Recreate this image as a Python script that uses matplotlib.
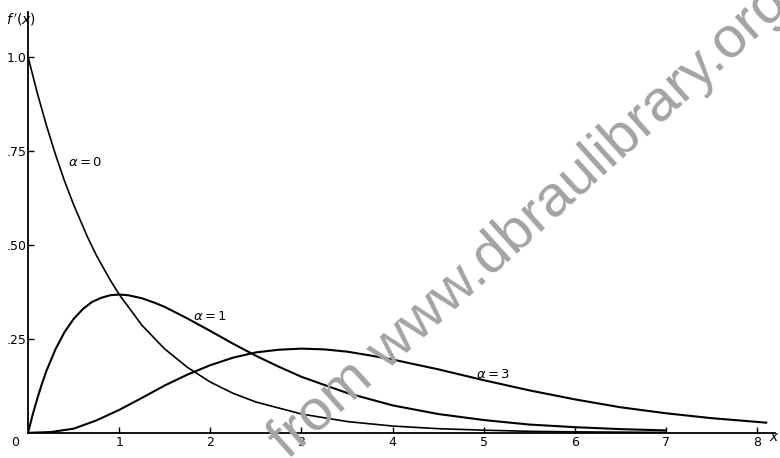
import numpy as np
import matplotlib.pyplot as plt

x_a0 = [0, 0.1, 0.2, 0.3, 0.4, 0.5, 0.65, 0.75, 0.9, 1.0, 1.25, 1.5, 1.75, 2.0, 2.25, 2.5, 3.0, 3.5, 4.0, 4.5, 5.0, 5.5, 6.0, 7.0]
f_a0 = [1.0, 0.905, 0.819, 0.741, 0.67, 0.607, 0.522, 0.472, 0.407, 0.368, 0.286, 0.223, 0.174, 0.135, 0.105, 0.082, 0.05, 0.03, 0.018, 0.011, 0.007, 0.004, 0.0025, 0.001]

x_a1 = [0, 0.05, 0.1, 0.15, 0.2, 0.3, 0.4, 0.5, 0.6, 0.7, 0.8, 0.9, 1.0, 1.1, 1.25, 1.4, 1.5, 1.75, 2.0, 2.25, 2.5, 2.75, 3.0, 3.5, 4.0, 4.5, 5.0, 5.5, 6.0, 6.5, 7.0]
f_a1 = [0, 0.048, 0.09, 0.129, 0.164, 0.222, 0.268, 0.303, 0.329, 0.348, 0.359, 0.366, 0.368, 0.366, 0.358, 0.345, 0.335, 0.304, 0.271, 0.237, 0.205, 0.176, 0.149, 0.106, 0.073, 0.05, 0.034, 0.022, 0.015, 0.0098, 0.0064]

x_a3 = [0, 0.25, 0.5, 0.75, 1.0, 1.25, 1.5, 1.75, 2.0, 2.25, 2.5, 2.75, 3.0, 3.25, 3.5, 3.75, 4.0, 4.5, 5.0, 5.5, 6.0, 6.5, 7.0, 7.5, 8.1]
f_a3 = [0, 0.002, 0.011, 0.033, 0.061, 0.093, 0.126, 0.155, 0.18, 0.2, 0.214, 0.221, 0.224, 0.222, 0.216, 0.206, 0.195, 0.169, 0.14, 0.113, 0.089, 0.068, 0.052, 0.039, 0.027]

xticks = [1, 2, 3, 4, 5, 6, 7, 8]
yticks = [0.25, 0.50, 0.75, 1.0]
ytick_labels = ['.25', '.50', '.75', '1.0']

fig = plt.figure(figsize=(7.8, 4.58), dpi=100)
ax = fig.add_axes([0.036, 0.055, 0.958, 0.919])

ax.plot(x_a0, f_a0, color='black', lw=1.2)
ax.plot(x_a1, f_a1, color='black', lw=1.5)
ax.plot(x_a3, f_a3, color='black', lw=1.5)

ax.set_xlim(0, 8.2)
ax.set_ylim(0, 1.12)
for s in ['top', 'right']:
    ax.spines[s].set_visible(False)
for s in ['left', 'bottom']:
    ax.spines[s].set_linewidth(1.3)

ax.set_xticks(xticks)
ax.set_xticklabels([str(t) for t in xticks])
ax.set_yticks(yticks)
ax.set_yticklabels(ytick_labels)
ax.tick_params(axis='both', direction='in', length=4, width=1, labelsize=9, pad=2)
ax.tick_params(axis='y', pad=1)

ax.text(-0.1, -0.008, '0', fontsize=9, ha='right', va='top')
fig.text(769 / 780, 1 - 437 / 458, '$x$', fontsize=10, ha='left', va='center')
fig.text(6 / 780, 1 - 20 / 458, "$f\\,'(x)$", fontsize=10, ha='left', va='center')

ax.text(0.63, 0.72, r'$\alpha = 0$', fontsize=9.5, ha='center', va='center')
ax.text(2.0, 0.31, r'$\alpha = 1$', fontsize=9.5, ha='center', va='center')
ax.text(5.1, 0.155, r'$\alpha = 3$', fontsize=9.5, ha='center', va='center')

# diagonal watermark
fig.text(288 / 780, 1 - 460 / 458, 'from www.dbraulibrary.org', fontsize=42,
         color='#a3a3a3', rotation=42, rotation_mode='anchor',
         ha='left', va='baseline', family='Liberation Sans')

fig.savefig('out.png', dpi=100)
